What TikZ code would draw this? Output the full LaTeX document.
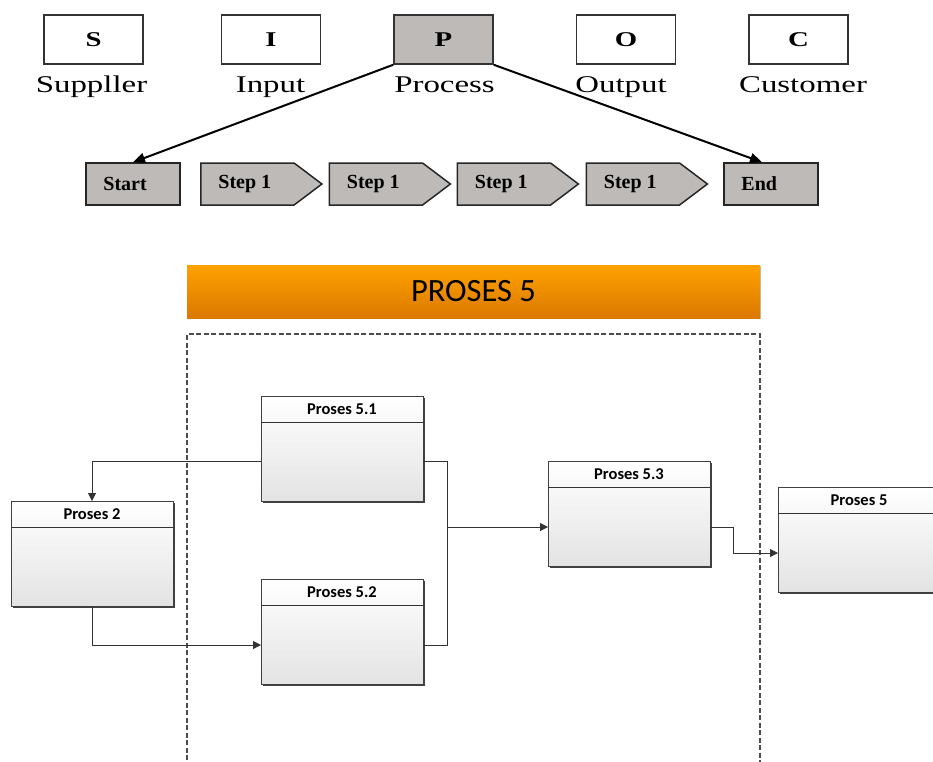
\documentclass[tikz,border=0pt]{standalone}
\usepackage{fontspec}
\setmainfont{Liberation Serif}
\newfontfamily\wideserif[FakeStretch=1.37]{Liberation Serif}
\newfontfamily\carl{Carlito}
\usetikzlibrary{arrows.meta,shapes.symbols,shadows,calc}
\definecolor{boxgray}{HTML}{BEBAB8}
\definecolor{orA}{HTML}{FFA200}
\definecolor{orB}{HTML}{DA7800}
\begin{document}
\begin{tikzpicture}[x=1pt,y=-1pt,
  letterbox/.style={draw=black!80,line width=1.5pt,minimum width=99pt,minimum height=49pt,inner sep=0pt,
    font=\wideserif\bfseries\fontsize{21}{25}\selectfont},
  toplabel/.style={inner sep=0pt,anchor=base,font=\wideserif\fontsize{24}{28}\selectfont},
  steptext/.style={font=\bfseries\fontsize{20}{24}\selectfont,inner sep=0pt},
  rectstep/.style={draw=black!85,line width=1.5pt,fill=boxgray,minimum width=94pt,minimum height=42pt,inner sep=0pt,
    label={[steptext,anchor=west,xshift=18pt]west:#1}},
  sigstep/.style={signal,signal to=east,signal from=nowhere,signal pointer angle=74,
    draw=black!85,line width=1.5pt,fill=boxgray,minimum width=121pt,minimum height=42pt,inner sep=0pt,
    label={[steptext,anchor=west,xshift=18pt]west:#1}},
  bigarrow/.style={line width=2pt,-{Triangle[length=12pt,width=10pt]}},
  procbox/.style={draw=black!75,line width=1pt,top color=white,bottom color=black!11,
    drop shadow={shadow xshift=2pt,shadow yshift=-2pt,fill=black!75,opacity=1},
    minimum width=162pt,minimum height=105pt,inner sep=0pt,outer sep=0pt,anchor=north west},
  ptitle/.style={font=\carl\bfseries\fontsize{16.5}{19}\selectfont,inner sep=0pt},
  conn/.style={draw=black!80,line width=1pt},
  connarr/.style={conn,-{Triangle[length=8pt,width=8pt]}}
]
\useasboundingbox (0,0) rectangle (933,761);

% ---- SIPOC row ----
\node[letterbox] (s) at (93.5,39.5) {S};
\node[letterbox] (i) at (271,39.5) {I};
\node[letterbox,fill=boxgray] (p) at (443.5,39.5) {P};
\node[letterbox] (o) at (626,39.5) {O};
\node[letterbox] (c) at (798.5,39.5) {C};

\node[toplabel] (ls) at (91.5,92) {Suppller};
\node[toplabel] (li) at (270.5,92) {Input};
\node[toplabel] (lp) at (444.5,92) {Process};
\node[toplabel] (lo) at (621,92) {Output};
\node[toplabel] (lc) at (803,92) {Customer};

% ---- step row ----
\node[rectstep=Start] (st) at (133,184) {};
\node[sigstep=Step 1] (s1) at (247.5,184) {};
\node[sigstep=Step 1] (s2) at (376,184) {};
\node[sigstep=Step 1] (s3) at (504,184) {};
\node[sigstep=Step 1] (s4) at (633,184) {};
\node[rectstep=End] (en) at (771,184) {};

\draw[bigarrow] (p.south west) -- (st.north);
\draw[bigarrow] (p.south east) -- ([xshift=-9pt]en.north);

% ---- PROSES 5 banner ----
\node[top color=orA,bottom color=orB,minimum width=573pt,minimum height=53pt,inner sep=0pt,
  drop shadow={shadow xshift=1pt,shadow yshift=-1pt,fill=black!25,opacity=1},
  font=\carl\fontsize{32.5}{38}\selectfont] (banner) at (473.5,291.5) {PROSES 5};

% dashed frame (open at bottom)
\coordinate (fbl) at (187,775);
\coordinate (ftl) at (187,334);
\coordinate (ftr) at (760,334);
\coordinate (fbr) at (760,775);
\draw[black!70,line width=2pt,dash pattern=on 5pt off 2.5pt] (fbl) -- (ftl) -- (ftr) -- (fbr);

% ---- process boxes ----
\node[procbox] (p51) at (261,396) {};
\node[procbox] (p2) at (11,501) {};
\node[procbox] (p52) at (261,579) {};
\node[procbox] (p53) at (548,461) {};
\node[procbox] (p5) at (778,487) {};

\foreach \b in {p51,p2,p52,p53,p5}{
  \draw[black!80,line width=1pt] ([yshift=-26pt]\b.north west) -- ([yshift=-26pt]\b.north east);
}
\node[ptitle] (p51t) at ([yshift=-13pt]p51.north) {Proses 5.1};
\node[ptitle] (p2t) at ([yshift=-13pt]p2.north) {Proses 2};
\node[ptitle] (p52t) at ([yshift=-13pt]p52.north) {Proses 5.2};
\node[ptitle] (p53t) at ([yshift=-13pt]p53.north) {Proses 5.3};
\node[ptitle] (p5t) at ([yshift=-13pt]p5.north) {Proses 5};

% ---- connectors ----
\coordinate (jt) at (447,461);
\coordinate (jm) at (447,527);
\coordinate (jb) at (447,645);
\coordinate (kt) at (733,527);
\coordinate (kb) at (733,553);

\draw[connarr] (p51.west |- jt) -| (p2.north);
\draw[connarr] (p2.south) |- (p52.west |- jb);
\draw[conn] (p51.east |- jt) -- (jt) -- (jb) -- (p52.east |- jb);
\draw[connarr] (jm) -- (p53.west |- jm);
\draw[connarr] (p53.east |- kt) -- (kt) -- (kb) -- (p5.west |- kb);
\end{tikzpicture}
\end{document}
